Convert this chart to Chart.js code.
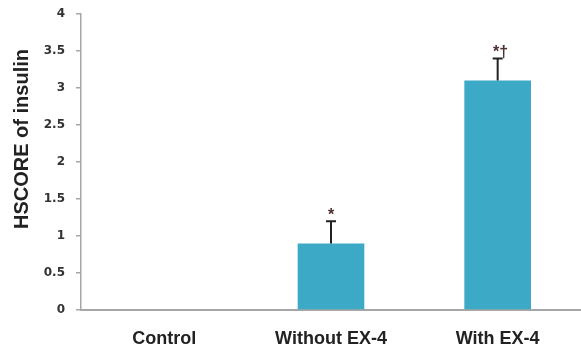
<!DOCTYPE html>
<html>
<head>
<meta charset="utf-8">
<script src="https://cdn.jsdelivr.net/npm/chart.js@4.4.1/dist/chart.umd.min.js"></script>
<style>
  html, body { margin: 0; padding: 0; background: #fff; }
  #wrap { width: 581px; height: 350px; position: relative; }
</style>
</head>
<body>
<div id="wrap"><canvas id="grafico"></canvas></div>
<script>
const grupos = ['Control', 'Without EX-4', 'With EX-4'];
const hscore = [0, 0.9, 3.1];
const errores = [0, 0.3, 0.3];
const marcas = ['', '*', '*\u2020'];
const ticksY = ['0', '0.5', '1', '1.5', '2', '2.5', '3', '3.5', '4'];
const tituloY = 'HSCORE of insulin';

// barras de error + asteriscos encima
const errorBars = {
  id: 'errorBars',
  afterDatasetsDraw(chart) {
    const ctx = chart.ctx;
    const y = chart.scales.y;
    const meta = chart.getDatasetMeta(0);
    ctx.save();
    meta.data.forEach((bar, i) => {
      const top = y.getPixelForValue(hscore[i] + errores[i]);
      if (errores[i] > 0) {
        ctx.strokeStyle = '#222';
        ctx.lineWidth = 2;
        ctx.beginPath();
        ctx.moveTo(bar.x, bar.y);
        ctx.lineTo(bar.x, top);
        ctx.moveTo(bar.x - 5, top);
        ctx.lineTo(bar.x + 5, top);
        ctx.stroke();
      }
      if (marcas[i]) {
        ctx.fillStyle = '#4a3030';
        ctx.font = 'bold 16px "Liberation Sans", Arial, sans-serif';
        ctx.textAlign = 'center';
        ctx.textBaseline = 'alphabetic';
        ctx.fillText(marcas[i], bar.x + (marcas[i].length > 1 ? 3 : 0), top - 1);
      }
    });
    ctx.restore();
  }
};

// titulo del eje y, un poco mas arriba que el centro
const tituloEje = {
  id: 'tituloEje',
  afterDraw(chart) {
    const ctx = chart.ctx;
    ctx.save();
    ctx.translate(22, 139);
    ctx.rotate(-Math.PI / 2);
    ctx.fillStyle = '#222';
    ctx.font = 'bold 20px "Liberation Sans", Arial, sans-serif';
    ctx.textAlign = 'center';
    ctx.textBaseline = 'middle';
    ctx.fillText(tituloY, 0, 0);
    ctx.restore();
  }
};

new Chart(document.getElementById('grafico'), {
  type: 'bar',
  data: {
    labels: grupos,
    datasets: [{
      data: hscore,
      backgroundColor: '#3caac7',
      borderWidth: 0,
      barPercentage: 0.4,
      categoryPercentage: 1
    }]
  },
  options: {
    responsive: true,
    maintainAspectRatio: false,
    animation: false,
    layout: { padding: { top: 14, right: 0, left: 0, bottom: 0 } },
    plugins: { legend: { display: false }, tooltip: { enabled: false } },
    scales: {
      x: {
        grid: { display: false, drawTicks: false },
        border: { color: '#a6a6a6', width: 2 },
        ticks: {
          padding: 18,
          color: '#222',
          font: { family: '"Liberation Sans", Arial, sans-serif', size: 18, weight: 'bold' }
        },
        afterFit(s) { s.height = 40; }
      },
      y: {
        min: 0,
        max: 4,
        grid: { drawOnChartArea: false, drawTicks: true, tickLength: 5, color: '#a6a6a6', lineWidth: 1.5 },
        border: { color: '#a6a6a6', width: 1.5 },
        ticks: {
          stepSize: 0.5,
          padding: 11,
          color: '#333',
          font: { family: '"DejaVu Sans", Verdana, sans-serif', size: 12, weight: 'bold' },
          callback: (v, i) => ticksY[i]
        },
        afterFit(s) {
          s.width = 81;
          s.paddingTop = 0;
          s.paddingBottom = 0;
        }
      }
    }
  },
  plugins: [errorBars, tituloEje]
});
</script>
</body>
</html>
